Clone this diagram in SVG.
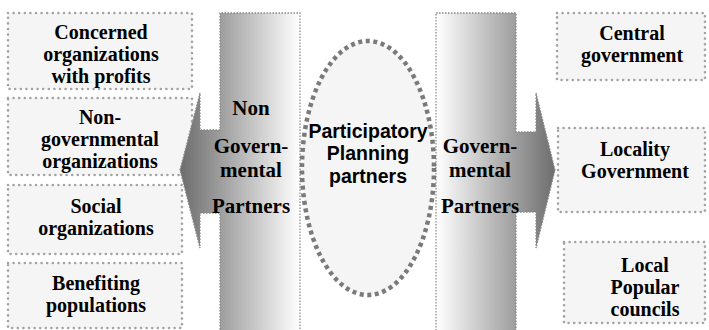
<svg xmlns="http://www.w3.org/2000/svg" width="709" height="330" viewBox="0 0 709 330">
  <defs>
    <linearGradient id="gradLeft" gradientUnits="userSpaceOnUse" x1="180" y1="0" x2="300" y2="0">
      <stop offset="0" stop-color="#6c6c6c"/>
      <stop offset="1" stop-color="#ffffff"/>
    </linearGradient>
    <linearGradient id="gradRight" gradientUnits="userSpaceOnUse" x1="436" y1="0" x2="556" y2="0">
      <stop offset="0" stop-color="#ffffff"/>
      <stop offset="1" stop-color="#6c6c6c"/>
    </linearGradient>
  </defs>
  <style>
    .box { fill: #f5f5f5; stroke: #a3a3a3; stroke-width: 2.6; stroke-dasharray: 0 5.6; stroke-linecap: round; }
    .callout { stroke: #8a8a8a; stroke-width: 1.3; stroke-dasharray: 1.6 1.4; }
    .hub { fill: #f5f5f5; stroke: #7a7a7a; stroke-width: 4.5; stroke-dasharray: 4 3.6; }
    .t, .tb { font-family: 'Liberation Serif', 'Times New Roman', serif; font-weight: bold; fill: #000; text-anchor: middle; }
    .t { font-size: 20px; }
    .tb { font-size: 21px; }
    .ts { font-family: 'Liberation Sans', Arial, sans-serif; font-weight: bold; font-size: 19.5px; fill: #000; text-anchor: middle; }
  </style>

  <!-- non-governmental partner boxes -->
  <g id="box-profits">
    <rect class="box" x="8" y="13" width="184" height="76"/>
    <text class="t" x="101" y="39">Concerned</text>
    <text class="t" x="101" y="61">organizations</text>
    <text class="t" x="101" y="83">with profits</text>
  </g>
  <g id="box-ngo">
    <rect class="box" x="8" y="98" width="184" height="77"/>
    <text class="t" x="100" y="124">Non-</text>
    <text class="t" x="100" y="146">governmental</text>
    <text class="t" x="100" y="168">organizations</text>
  </g>
  <g id="box-social">
    <rect class="box" x="8" y="185" width="174" height="69"/>
    <text class="t" x="96" y="213">Social</text>
    <text class="t" x="96" y="235">organizations</text>
  </g>
  <g id="box-beneficiaries">
    <rect class="box" x="8" y="263" width="174" height="65"/>
    <text class="t" x="96" y="290">Benefiting</text>
    <text class="t" x="96" y="312">populations</text>
  </g>

  <!-- governmental partner boxes -->
  <g id="box-central">
    <rect class="box" x="557" y="13" width="148" height="67"/>
    <text class="t" x="632" y="40">Central</text>
    <text class="t" x="632" y="62">government</text>
  </g>
  <g id="box-locality">
    <rect class="box" x="558" y="128" width="147" height="84"/>
    <text class="t" x="635" y="156">Locality</text>
    <text class="t" x="635" y="178">Government</text>
  </g>
  <g id="box-councils">
    <rect class="box" x="564" y="242" width="141" height="81"/>
    <text class="t" x="645" y="272">Local</text>
    <text class="t" x="645" y="294">Popular</text>
    <text class="t" x="645" y="316">councils</text>
  </g>

  <!-- arrow callouts pointing outwards -->
  <g id="connectors">
    <path class="callout" fill="url(#gradLeft)" d="M180,170 L200,93 L200,130 L220,130 L220,13 L300,13 L300,335 L220,335 L220,213 L200,213 L200,248 Z"/>
    <path class="callout" fill="url(#gradRight)" d="M436,13 L516,13 L516,132 L536,132 L536,93 L555,170 L536,248 L536,212 L516,212 L516,335 L436,335 Z"/>
  </g>

  <g id="non-governmental-partners">
    <text class="tb" x="251" y="115">Non</text>
    <text class="tb" x="251" y="153">Govern-</text>
    <text class="tb" x="251" y="177">mental</text>
    <text class="tb" x="251" y="213">Partners</text>
  </g>
  <g id="governmental-partners">
    <text class="tb" x="480" y="153">Govern-</text>
    <text class="tb" x="480" y="177">mental</text>
    <text class="tb" x="480" y="213">Partners</text>
  </g>

  <!-- central hub -->
  <g id="participatory-planning">
    <ellipse class="hub" cx="368" cy="168" rx="66" ry="127"/>
    <text class="ts" x="368" y="138">Participatory</text>
    <text class="ts" x="368" y="160">Planning</text>
    <text class="ts" x="368" y="183">partners</text>
  </g>
</svg>
